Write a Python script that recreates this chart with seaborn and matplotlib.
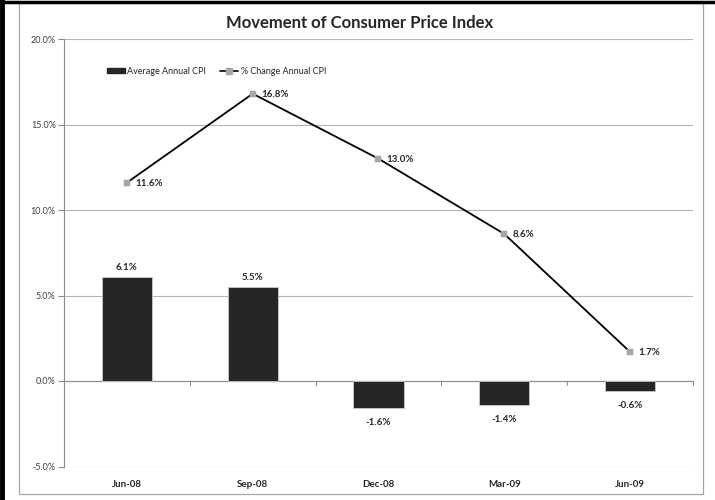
import numpy as np
import pandas as pd
import seaborn as sns
import matplotlib.pyplot as plt
from matplotlib.patches import Rectangle
from matplotlib.lines import Line2D
from matplotlib.ticker import FuncFormatter

# data
quarters = ['Jun-08', 'Sep-08', 'Dec-08', 'Mar-09', 'Jun-09']
avg_cpi = [6.1, 5.5, -1.6, -1.4, -0.6]
pct_change = [11.6, 16.8, 13.0, 8.6, 1.7]

df = pd.DataFrame({'quarter': quarters, 'avg': avg_cpi, 'chg': pct_change})

sns.set_style('white')
plt.rcParams['font.family'] = ['Lato', 'DejaVu Sans']

fig = plt.figure(figsize=(7.15, 5.0), dpi=100)
ax = fig.add_axes([0.0895, 0.067, 0.8797, 0.855])

# outer frame: black top/left edge, thin gray inner box
fig.add_artist(Line2D([0.003, 0.003], [0, 1], transform=fig.transFigure,
                      color='black', linewidth=3.5))
fig.add_artist(Line2D([0, 1], [0.997, 0.997], transform=fig.transFigure,
                      color='black', linewidth=2.5))
fig.patches.append(Rectangle((0.0266, 0.012), 0.9564, 0.982, transform=fig.transFigure,
                             fill=False, edgecolor='#a6a6a6', linewidth=0.9))

sns.barplot(data=df, x='quarter', y='avg', color='#262626', width=0.4,
            edgecolor='#c8c8c8', linewidth=0.6, saturation=1, ax=ax, zorder=3)

x_pos = np.arange(len(quarters))
ax.plot(x_pos, df['chg'], color='black', linewidth=1.3, zorder=4)
sns.scatterplot(x=x_pos, y=df['chg'], marker='s', color='#a6a6a6', s=20,
                edgecolor='#a6a6a6', ax=ax, zorder=5)

# data labels
for i, v in enumerate(avg_cpi):
    if v >= 0:
        ax.text(i, v + 0.55, f'{v:.1f}%', ha='center', va='center', fontsize=7, fontweight='bold')
    else:
        ax.text(i, v - 0.85, f'{v:.1f}%', ha='center', va='center', fontsize=7, fontweight='bold')
for i, v in enumerate(pct_change):
    ax.text(i + 0.065, v - 0.05, f'{v:.1f}%', ha='left', va='center', fontsize=7, fontweight='bold')

ax.set_ylim(-5, 20)
ax.set_xlim(-0.5, 4.5)
ax.set_yticks([-5, 0, 5, 10, 15, 20])
ax.yaxis.set_major_formatter(FuncFormatter(lambda v, p: f'{v:.1f}%'))
ax.yaxis.grid(True, color='#b4b4b4', linewidth=0.8, zorder=0)
ax.set_axisbelow(True)
ax.axhline(0, color='#8c8c8c', linewidth=0.8, zorder=2)
for b in np.arange(-0.5, 5, 1.0):
    ax.plot([b, b], [0, -0.22], color='#8c8c8c', linewidth=0.8, zorder=2, clip_on=False)

for s in ['top', 'right', 'bottom']:
    ax.spines[s].set_visible(False)
ax.spines['left'].set_color('#8c8c8c')
ax.spines['left'].set_linewidth(0.8)

ax.tick_params(axis='y', labelsize=6.5, length=4, color='#8c8c8c', left=True, pad=2,
               labelcolor='#404040')
ax.tick_params(axis='x', labelsize=7, length=0, pad=10)
for lbl in ax.get_xticklabels():
    lbl.set_fontweight('bold')
ax.set_xlabel('')
ax.set_ylabel('')

fig.text(0.503, 0.954, 'Movement of Consumer Price Index', fontsize=12, fontweight='bold',
         ha='center', va='center')

handles = [Rectangle((0, 0), 1, 1, color='#262626'),
           Line2D([0], [0], color='black', marker='s', markersize=4,
                  markerfacecolor='#a6a6a6', markeredgecolor='#a6a6a6', linewidth=1.2)]
ax.legend(handles, ['Average Annual CPI', '% Change Annual CPI'], loc='center left',
          bbox_to_anchor=(0.055, 0.925), ncol=2, frameon=False, fontsize=6.5,
          handlelength=2.0, handleheight=0.5, handletextpad=0.25, columnspacing=1.6)

fig.savefig('out.png', dpi=100)
